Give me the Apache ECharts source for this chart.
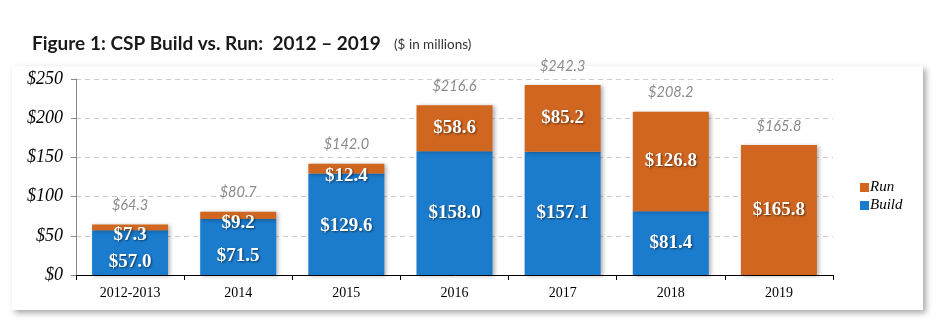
<!DOCTYPE html>
<html>
<head>
<meta charset="utf-8">
<script src="https://cdn.jsdelivr.net/npm/echarts@6/dist/echarts.min.js"></script>
<style>
html,body{margin:0;padding:0;background:#fff;}
#chart{width:945px;height:328px;}
</style>
</head>
<body>
<div id="chart"></div>
<script>
const categories = ['2012-2013','2014','2015','2016','2017','2018','2019'];
const buildValues = [57.0, 71.5, 129.6, 158.0, 157.1, 81.4, 0];
const runValues = [7.3, 9.2, 12.4, 58.6, 85.2, 126.8, 165.8];
const totals = [64.3, 80.7, 142.0, 216.6, 242.3, 208.2, 165.8];
const yTicks = [0, 50, 100, 150, 200, 250];

const BLUE = '#1b7bcc';
const ORANGE = '#d0661f';
const barLabel = {
  show: true, position: 'inside', color: '#fff',
  fontFamily: 'Liberation Serif', fontWeight: 'bold', fontSize: 19,
  textShadowColor: 'rgba(0,0,0,0.55)', textShadowBlur: 2, textShadowOffsetX: 1, textShadowOffsetY: 1
};
const barShadow = { shadowColor: 'rgba(0,0,0,0.3)', shadowBlur: 4, shadowOffsetX: 2, shadowOffsetY: 1 };

const chart = echarts.init(document.getElementById('chart'), null, {renderer: 'canvas'});
chart.setOption({
  animation: false,
  backgroundColor: '#fff',
  graphic: [
    { type: 'rect', shape: { x: 12, y: 66, width: 911, height: 244 },
      style: { fill: '#fff', shadowColor: 'rgba(0,0,0,0.35)', shadowBlur: 6, shadowOffsetX: 3, shadowOffsetY: 3 }, z: -10 },
    { type: 'text', left: 32, top: 34,
      style: { text: 'Figure 1: CSP Build vs. Run:  2012 – 2019', fontFamily: 'Lato', fontWeight: 'bold', fontSize: 19, fill: '#1a1a1a' } },
    { type: 'text', left: 394, top: 38,
      style: { text: '($ in millions)', fontFamily: 'Lato', fontSize: 13.5, fill: '#333' } }
  ],
  legend: {
    data: ['Run', 'Build'], orient: 'vertical', left: 855, top: 175, itemGap: 3,
    icon: 'rect', itemWidth: 9, itemHeight: 9, itemStyle: { shadowBlur: 0, shadowOffsetX: 0, shadowOffsetY: 0 },
    textStyle: { fontFamily: 'Liberation Serif', fontStyle: 'italic', fontSize: 15, color: '#000', padding: [0,0,0,-4] }
  },
  grid: { left: 76, right: 112, top: 79, bottom: 53 },
  xAxis: {
    type: 'category', data: categories,
    axisLine: { lineStyle: { color: '#000', width: 1 } },
    axisTick: { show: true, length: 5, lineStyle: { color: '#000' } },
    axisLabel: { fontFamily: 'Liberation Serif', fontSize: 14, color: '#000', margin: 11 }
  },
  yAxis: {
    type: 'value', min: yTicks[0], max: yTicks[yTicks.length - 1], interval: 50,
    axisLine: { show: true, lineStyle: { color: '#888' } },
    axisTick: { show: true, length: 5, lineStyle: { color: '#888' } },
    splitLine: { lineStyle: { color: '#ccc', type: [5, 4] } },
    axisLabel: { fontFamily: 'Liberation Serif', fontStyle: 'italic', fontSize: 18, color: '#000', margin: 13,
      formatter: v => '$' + v }
  },
  series: [
    {
      name: 'Build', type: 'bar', stack: 'a', barWidth: 76, z: 2,
      itemStyle: Object.assign({ color: BLUE }, barShadow),
      label: Object.assign({}, barLabel, { formatter: p => p.value > 0 ? '$' + p.value.toFixed(1) : '' }),
      data: buildValues.map((v, i) => ({ value: v, label: { offset: [0, runValues[i] < 10 ? 9 : (runValues[i] < 15 ? 2 : 0)] } }))
    },
    {
      name: 'Run', type: 'bar', stack: 'a', barWidth: 76, z: 3,
      itemStyle: Object.assign({ color: ORANGE }, barShadow),
      label: Object.assign({}, barLabel, { formatter: p => '$' + p.value.toFixed(1) }),
      data: runValues.map(v => ({ value: v, label: { offset: [0, v < 15 ? 8 : 0] } }))
    },
    {
      name: 'Total', type: 'line', data: totals, symbol: 'circle', symbolSize: 1, silent: true,
      itemStyle: { color: 'rgba(0,0,0,0)' },
      lineStyle: { width: 0, color: 'rgba(0,0,0,0)' },
      label: { show: true, position: 'top', distance: 11, formatter: p => '$' + p.value.toFixed(1),
        fontFamily: 'Lato', fontStyle: 'italic', fontSize: 14.5, color: '#8a8a8a' }
    }
  ]
});
</script>
</body>
</html>
